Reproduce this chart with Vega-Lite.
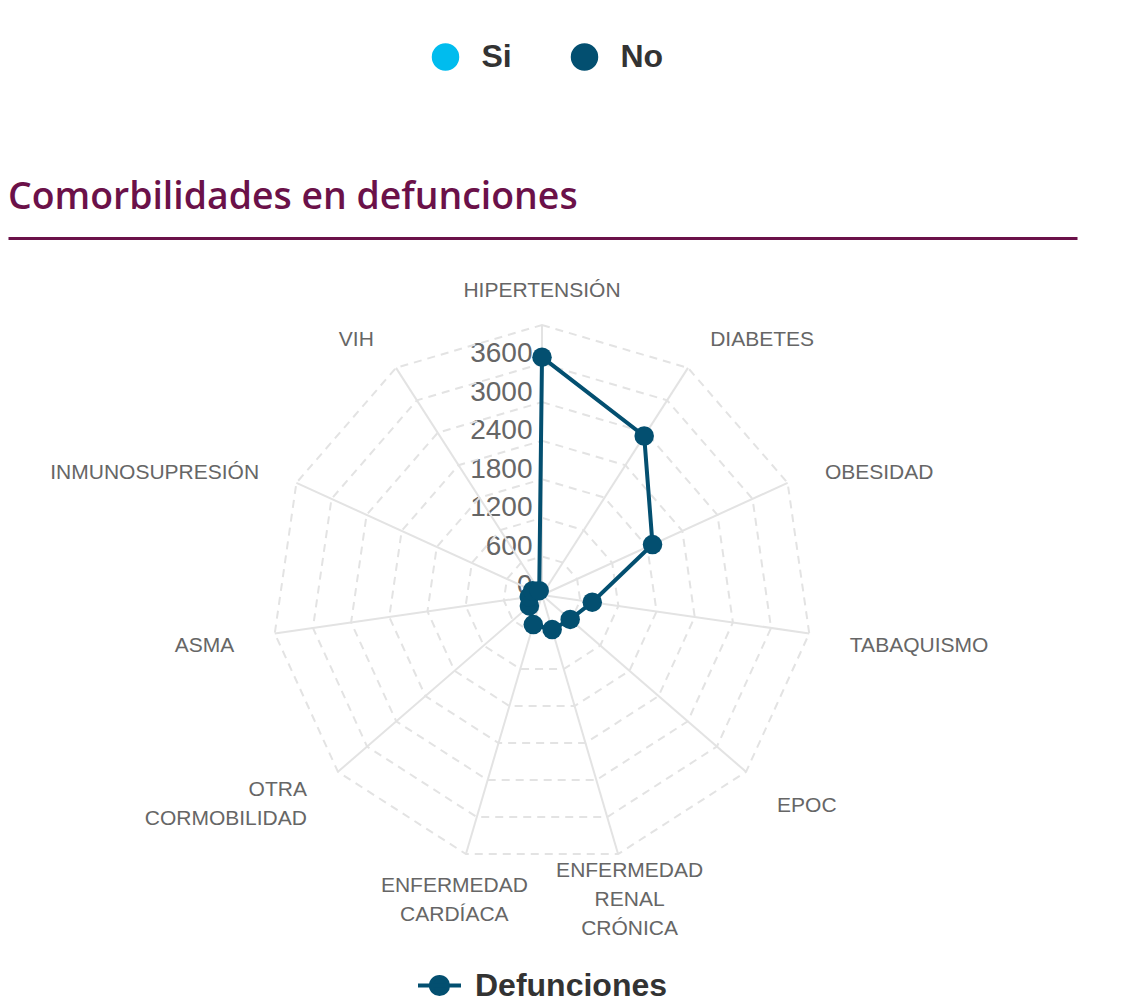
{
  "$schema": "https://vega.github.io/schema/vega-lite/v6.json",
  "width": 1069,
  "height": 770,
  "autosize": {"type": "none"},
  "padding": {"left": 8, "top": 238, "right": 59, "bottom": 0},
  "background": "white",
  "config": {"view": {"stroke": null}, "font": "Liberation Sans", "legend": {"labelLimit": 0}},
  "title": {
    "text": "Comorbilidades en defunciones",
    "anchor": "start",
    "frame": "group",
    "font": "Open Sans",
    "fontSize": 37.4,
    "fontWeight": 600,
    "color": "#6b1149",
    "offset": 20,
    "dy": 195
  },
  "datasets": {
    "cats": [
      {"k": 0, "cat": "HIPERTENSIÓN", "defunciones": 3700},
      {"k": 1, "cat": "DIABETES", "defunciones": 2940},
      {"k": 2, "cat": "OBESIDAD", "defunciones": 1890},
      {"k": 3, "cat": "TABAQUISMO", "defunciones": 790},
      {"k": 4, "cat": "EPOC", "defunciones": 580},
      {"k": 5, "cat": "ENFERMEDAD RENAL CRÓNICA", "defunciones": 560},
      {"k": 6, "cat": "ENFERMEDAD CARDÍACA", "defunciones": 480},
      {"k": 7, "cat": "OTRA CORMOBILIDAD", "defunciones": 260},
      {"k": 8, "cat": "ASMA", "defunciones": 200},
      {"k": 9, "cat": "INMUNOSUPRESIÓN", "defunciones": 160},
      {"k": 10, "cat": "VIH", "defunciones": 80}
    ],
    "levels": [
      {"v": 600, "k": 0, "f": 1},
      {"v": 1200, "k": 0, "f": 1},
      {"v": 1800, "k": 0, "f": 1},
      {"v": 2400, "k": 0, "f": 1},
      {"v": 3000, "k": 0, "f": 1},
      {"v": 3600, "k": 0, "f": 1},
      {"v": 4200, "k": 0, "f": 1}
    ]
  },
  "encoding": {
    "x": {
      "field": "x",
      "type": "quantitative",
      "scale": {"domain": [-8306.7, 8322.2], "nice": false, "zero": false},
      "axis": {"orient": "top", "title": null, "labels": false, "ticks": false, "grid": false, "domain": true, "domainColor": "#6b1149", "domainWidth": 3}
    },
    "y": {
      "field": "y",
      "type": "quantitative",
      "scale": {"domain": [-6424.4, 5553.3], "nice": false, "zero": false},
      "axis": {
        "orient": "left",
        "title": null,
        "offset": -534,
        "values": [0, 600, 1200, 1800, 2400, 3000, 3600],
        "format": "d",
        "domain": false,
        "ticks": false,
        "tickSize": 0,
        "grid": false,
        "labelPadding": 10,
        "labelFontSize": 28,
        "labelColor": "#666666",
        "labelFont": "Liberation Sans",
        "labelBaseline": "alphabetic",
        "labelOffset": -2,
        "labelOverlap": false,
        "labelFlush": false,
        "labelBound": false
      }
    }
  },
  "layer": [
    {
      "data": {"name": "cats"},
      "transform": [
        {"calculate": "datum.k*2*PI/11", "as": "a"},
        {"calculate": "4200*sin(datum.a)", "as": "x"},
        {"calculate": "4200*cos(datum.a)", "as": "y"}
      ],
      "mark": {"type": "rule", "color": "#e3e3e3", "strokeWidth": 2},
      "encoding": {"x2": {"datum": 0}, "y2": {"datum": 0}}
    },
    {
      "data": {"name": "levels"},
      "transform": [
        {"impute": "f", "key": "k", "keyvals": [0, 1, 2, 3, 4, 5, 6, 7, 8, 9, 10], "groupby": ["v"], "value": 1},
        {"calculate": "datum.k*2*PI/11", "as": "a"},
        {"calculate": "datum.v*sin(datum.a)", "as": "x"},
        {"calculate": "datum.v*cos(datum.a)", "as": "y"}
      ],
      "mark": {"type": "line", "interpolate": "linear-closed", "color": "#e3e3e3", "strokeWidth": 2, "strokeDash": [8, 6]},
      "encoding": {
        "detail": {"field": "v", "type": "nominal"},
        "order": {"field": "k", "type": "quantitative"}
      }
    },
    {
      "data": {"name": "cats"},
      "transform": [
        {"calculate": "datum.k*2*PI/11", "as": "a"},
        {"calculate": "datum.defunciones*sin(datum.a)", "as": "x"},
        {"calculate": "datum.defunciones*cos(datum.a)", "as": "y"}
      ],
      "mark": {"type": "line", "interpolate": "linear-closed", "strokeWidth": 4},
      "encoding": {
        "order": {"field": "k", "type": "quantitative"},
        "stroke": {
          "datum": "Defunciones",
          "scale": {"range": ["#034f70"]},
          "legend": {
            "orient": "none",
            "legendX": 408,
            "legendY": 724,
            "direction": "horizontal",
            "title": null,
            "padding": 0,
            "symbolType": "M-1,0L1,0M-0.4,0A0.4,0.4,0,1,0,0.4,0A0.4,0.4,0,1,0,-0.4,0Z",
            "symbolSize": 1849,
            "symbolStrokeWidth": 4,
            "labelFont": "Liberation Sans",
            "labelFontSize": 32,
            "labelFontWeight": "bold",
            "labelColor": "#333333",
            "labelOffset": 12,
            "encode": {"symbols": {"update": {"fill": {"value": "#034f70"}, "stroke": {"value": "#034f70"}, "opacity": {"value": 1}}}}
          }
        }
      }
    },
    {
      "data": {"name": "cats"},
      "transform": [
        {"calculate": "datum.k*2*PI/11", "as": "a"},
        {"calculate": "datum.defunciones*sin(datum.a)", "as": "x"},
        {"calculate": "datum.defunciones*cos(datum.a)", "as": "y"}
      ],
      "mark": {"type": "circle", "size": 380, "opacity": 1},
      "encoding": {
        "color": {
          "datum": "No",
          "scale": {"domain": ["Si", "No"], "range": ["#00bcee", "#034f70"]},
          "legend": {
            "orient": "none",
            "legendX": 421.5,
            "legendY": -197,
            "direction": "horizontal",
            "title": null,
            "padding": 0,
            "symbolType": "circle",
            "symbolSize": 755,
            "symbolOpacity": 1,
            "symbolStrokeWidth": 0,
            "labelFont": "Liberation Sans",
            "labelFontSize": 32,
            "labelFontWeight": "bold",
            "labelColor": "#333333",
            "labelOffset": 20,
            "columnPadding": 56
          }
        }
      }
    },
    {
      "data": {"name": "cats"},
      "transform": [
        {"filter": "datum.k == 0"},
        {"calculate": "datum.k*2*PI/11", "as": "a"},
        {"calculate": "4838*sin(datum.a)", "as": "x"},
        {"calculate": "4838*cos(datum.a)", "as": "y"},
        {"calculate": "split(datum.cat, ' ')", "as": "lab"}
      ],
      "mark": {"type": "text", "align": "center", "baseline": "middle", "dy": 7, "fontSize": 21, "color": "#666666", "lineHeight": 29, "font": "Liberation Sans"},
      "encoding": {"text": {"field": "lab", "type": "nominal"}}
    },
    {
      "data": {"name": "cats"},
      "transform": [
        {"filter": "datum.k == 6"},
        {"calculate": "datum.k*2*PI/11", "as": "a"},
        {"calculate": "4838*sin(datum.a)", "as": "x"},
        {"calculate": "4838*cos(datum.a)", "as": "y"},
        {"calculate": "split(datum.cat, ' ')", "as": "lab"}
      ],
      "mark": {"type": "text", "align": "center", "baseline": "middle", "dy": -7.5, "fontSize": 21, "color": "#666666", "lineHeight": 29, "font": "Liberation Sans"},
      "encoding": {"text": {"field": "lab", "type": "nominal"}}
    },
    {
      "data": {"name": "cats"},
      "transform": [
        {"filter": "datum.k == 5"},
        {"calculate": "datum.k*2*PI/11", "as": "a"},
        {"calculate": "4838*sin(datum.a)", "as": "x"},
        {"calculate": "4838*cos(datum.a)", "as": "y"},
        {"calculate": "split(datum.cat, ' ')", "as": "lab"}
      ],
      "mark": {"type": "text", "align": "center", "baseline": "middle", "dy": -22, "fontSize": 21, "color": "#666666", "lineHeight": 29, "font": "Liberation Sans"},
      "encoding": {"text": {"field": "lab", "type": "nominal"}}
    },
    {
      "data": {"name": "cats"},
      "transform": [
        {"filter": "datum.k >= 1 && datum.k <= 4"},
        {"calculate": "datum.k*2*PI/11", "as": "a"},
        {"calculate": "4838*sin(datum.a)", "as": "x"},
        {"calculate": "4838*cos(datum.a)", "as": "y"},
        {"calculate": "split(datum.cat, ' ')", "as": "lab"}
      ],
      "mark": {"type": "text", "align": "left", "baseline": "middle", "dy": 7, "fontSize": 21, "color": "#666666", "lineHeight": 29, "font": "Liberation Sans"},
      "encoding": {"text": {"field": "lab", "type": "nominal"}}
    },
    {
      "data": {"name": "cats"},
      "transform": [
        {"filter": "datum.k >= 8"},
        {"calculate": "datum.k*2*PI/11", "as": "a"},
        {"calculate": "4838*sin(datum.a)", "as": "x"},
        {"calculate": "4838*cos(datum.a)", "as": "y"},
        {"calculate": "split(datum.cat, ' ')", "as": "lab"}
      ],
      "mark": {"type": "text", "align": "right", "baseline": "middle", "dy": 7, "fontSize": 21, "color": "#666666", "lineHeight": 29, "font": "Liberation Sans"},
      "encoding": {"text": {"field": "lab", "type": "nominal"}}
    },
    {
      "data": {"name": "cats"},
      "transform": [
        {"filter": "datum.k == 7"},
        {"calculate": "datum.k*2*PI/11", "as": "a"},
        {"calculate": "4838*sin(datum.a)", "as": "x"},
        {"calculate": "4838*cos(datum.a)", "as": "y"},
        {"calculate": "split(datum.cat, ' ')", "as": "lab"}
      ],
      "mark": {"type": "text", "align": "right", "baseline": "middle", "dy": -8.5, "fontSize": 21, "color": "#666666", "lineHeight": 29, "font": "Liberation Sans"},
      "encoding": {"text": {"field": "lab", "type": "nominal"}}
    }
  ]
}
